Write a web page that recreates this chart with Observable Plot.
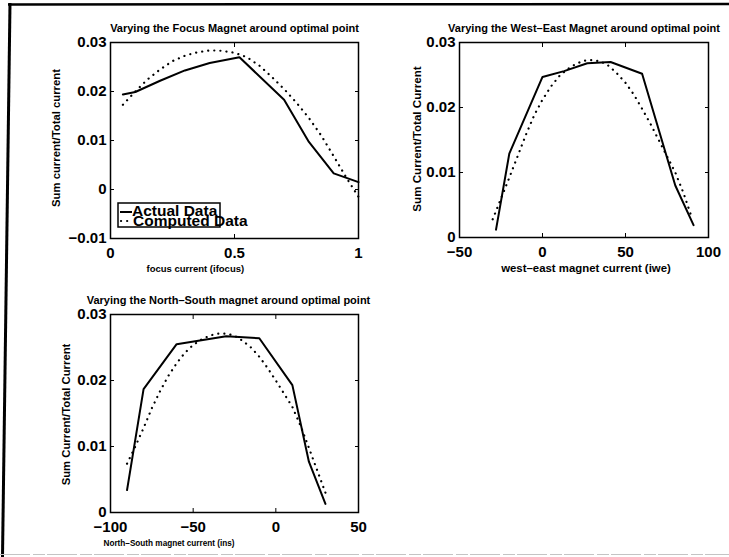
<!DOCTYPE html>
<html>
<head>
<meta charset="utf-8">
<script src="https://cdn.jsdelivr.net/npm/d3@7"></script>
<script src="https://cdn.jsdelivr.net/npm/@observablehq/plot@0.6"></script>
<style>
  html, body { margin: 0; padding: 0; background: #fff; }
  #wrap { position: relative; width: 729px; height: 557px; background: #fff; overflow: hidden; }
  #wrap svg { position: absolute; }
</style>
</head>
<body>
<div id="wrap"></div>
<script>
// ---------- Data ----------
// Panel 1: focus magnet
const focusX = [0.05, 0.1, 0.2, 0.3, 0.4, 0.52, 0.7, 0.8, 0.9, 1.0];
const focusActual = [0.0194, 0.0199, 0.0222, 0.0243, 0.0258, 0.0270, 0.0183, 0.0097, 0.0033, 0.0015];
const focusCompX = [0.05, 0.1, 0.15, 0.2, 0.25, 0.3, 0.35, 0.4, 0.45, 0.5, 0.55, 0.6, 0.65, 0.7, 0.75, 0.8, 0.85, 0.9, 0.95, 1.0];
const focusComputed = [0.0173, 0.0200, 0.0225, 0.0245, 0.0262, 0.0273, 0.0280, 0.0284, 0.0283, 0.0279, 0.0270, 0.0253, 0.0230, 0.0205, 0.0177, 0.0146, 0.0110, 0.0068, 0.0025, -0.0015];

// Panel 2: west-east magnet
const weX = [-28, -20, 0, 13, 27, 41, 60, 80, 91];
const weActual = [0.0012, 0.0129, 0.0247, 0.0256, 0.0268, 0.0270, 0.0252, 0.0080, 0.0019];
const weCompX = [-30, -25, -20, -15, -10, -5, 0, 5, 10, 15, 20, 25, 30, 35, 40, 45, 50, 55, 60, 65, 70, 75, 80, 85, 90];
const weComputed = [0.0028, 0.0060, 0.0092, 0.0125, 0.0158, 0.0188, 0.0212, 0.0232, 0.0248, 0.0259, 0.0267, 0.0272, 0.0273, 0.0271, 0.0264, 0.0252, 0.0238, 0.0220, 0.0198, 0.0175, 0.0150, 0.0125, 0.0100, 0.0068, 0.0030];

// Panel 3: north-south magnet
const nsX = [-90, -80, -60, -30, -10, 10, 20, 30];
const nsActual = [0.0034, 0.0187, 0.0255, 0.0267, 0.0264, 0.0193, 0.0077, 0.0013];
const nsCompX = [-90, -85, -80, -75, -70, -65, -60, -55, -50, -45, -40, -35, -30, -25, -20, -15, -10, -5, 0, 5, 10, 15, 20, 25, 30];
const nsComputed = [0.0074, 0.0100, 0.0128, 0.0158, 0.0184, 0.0207, 0.0226, 0.0242, 0.0254, 0.0262, 0.0268, 0.0271, 0.0271, 0.0268, 0.0260, 0.0250, 0.0236, 0.0219, 0.0200, 0.0180, 0.0160, 0.0131, 0.0098, 0.0064, 0.0030];

// Tick values
const focusXTicks = [0, 0.5, 1];
const focusYTicks = [-0.01, 0, 0.01, 0.02, 0.03];
const weXTicks = [-50, 0, 50, 100];
const nsXTicks = [-100, -50, 0, 50];
const fracYTicks = [0, 0.01, 0.02, 0.03];

// Texts
const titles = [
  "Varying the Focus Magnet around optimal point",
  "Varying the West\u2013East Magnet around optimal point",
  "Varying the North\u2013South magnet around optimal point"
];
const xLabels = ["focus current (ifocus)", "west\u2013east magnet current (iwe)", "North\u2013South magnet current (ins)"];
const yLabels = ["Sum current/Total current", "Sum Current/Total Current", "Sum Current/Total Current"];
const legendLabels = ["Actual Data", "Computed Data"];

// ---------- Drawing ----------
const FONT = "'Liberation Sans', Arial, Helvetica, sans-serif";
const fmt = d => (d < 0 ? "\u2212" : "") + Math.abs(d);
const blank = () => "";
const toRows = (xs, ys) => xs.map((x, i) => ({x, y: ys[i]}));

function panel(cfg) {
  const svg = Plot.plot({
    width: cfg.width, height: cfg.height,
    marginLeft: cfg.ml, marginRight: cfg.mr, marginTop: cfg.mt, marginBottom: cfg.mb,
    style: {fontFamily: FONT, fontWeight: "bold", background: "transparent", overflow: "visible", color: "black"},
    x: {domain: cfg.xDomain, nice: false, label: null, inset: 0},
    y: {domain: cfg.yDomain, nice: false, label: null, inset: 0},
    marks: [
      // tick labels
      Plot.axisX({anchor: "bottom", ticks: cfg.xTicks, tickSize: 0, tickPadding: 9, tickFormat: fmt, fontSize: 15, label: null}),
      Plot.axisY({anchor: "left", ticks: cfg.yTicks, tickSize: 0, tickPadding: 4, tickFormat: fmt, fontSize: 15, label: null}),
      // inward ticks on all four sides
      Plot.axisX({anchor: "bottom", ticks: cfg.xTicks, tickSize: 4, dy: -4, tickFormat: blank, label: null}),
      Plot.axisX({anchor: "top", ticks: cfg.xTicks, tickSize: 4, dy: 4, tickFormat: blank, label: null}),
      Plot.axisY({anchor: "left", ticks: cfg.yTicks, tickSize: 4, dx: 4, tickFormat: blank, label: null}),
      Plot.axisY({anchor: "right", ticks: cfg.yTicks, tickSize: 4, dx: -4, tickFormat: blank, label: null}),
      // data
      Plot.line(cfg.computed, {x: "x", y: "y", stroke: "black", strokeWidth: 2.2, strokeDasharray: "0.1,6", strokeLinecap: "round"}),
      Plot.line(cfg.actual, {x: "x", y: "y", stroke: "black", strokeWidth: 2}),
      Plot.frame({stroke: "black", strokeWidth: 1.5}),
      // title
      Plot.text([cfg.title], {text: d => d, frameAnchor: "top", lineAnchor: "bottom", dy: -11, dx: cfg.titleDx, fontSize: 11, fontWeight: "bold"}),
      // x label
      Plot.text([cfg.xlabel], {text: d => d, frameAnchor: cfg.xlabelAnchor, textAnchor: cfg.xlabelTA, lineAnchor: "bottom", dx: cfg.xlabelDx, dy: cfg.xlabelDy, fontSize: cfg.xlabelSize, fontWeight: "bold"}),
      // y label
      Plot.text([cfg.ylabel], {text: d => d, frameAnchor: "left", rotate: -90, textAnchor: "middle", lineAnchor: "middle", dx: cfg.ylabelDx, dy: cfg.ylabelDy, fontSize: cfg.ylabelSize, fontWeight: "bold"})
    ]
  });
  svg.style.left = cfg.left + "px";
  svg.style.top = cfg.top + "px";
  return svg;
}

const wrap = document.getElementById("wrap");

wrap.appendChild(panel({
  left: 0, top: 0, width: 365, height: 280, ml: 110, mr: 7, mt: 42, mb: 42,
  xDomain: [0, 1], yDomain: [-0.01, 0.03], xTicks: focusXTicks, yTicks: focusYTicks,
  actual: toRows(focusX, focusActual), computed: toRows(focusCompX, focusComputed),
  title: titles[0], titleDx: 0,
  xlabel: xLabels[0], xlabelAnchor: "bottom-left", xlabelTA: "start", xlabelDx: 36, xlabelDy: 33, xlabelSize: 9.5,
  ylabel: yLabels[0], ylabelDx: -54, ylabelDy: -2.5, ylabelSize: 11.3
}));

wrap.appendChild(panel({
  left: 365, top: 0, width: 364, height: 280, ml: 94, mr: 21, mt: 42, mb: 43,
  xDomain: [-50, 100], yDomain: [0, 0.03], xTicks: weXTicks, yTicks: fracYTicks,
  actual: toRows(weX, weActual), computed: toRows(weCompX, weComputed),
  title: titles[1], titleDx: 0,
  xlabel: xLabels[1], xlabelAnchor: "bottom", xlabelTA: "middle", xlabelDx: 2, xlabelDy: 34, xlabelSize: 11.4,
  ylabel: yLabels[1], ylabelDx: -42, ylabelDy: -1, ylabelSize: 11.6
}));

wrap.appendChild(panel({
  left: 0, top: 280, width: 365, height: 277, ml: 110, mr: 7, mt: 34, mb: 45,
  xDomain: [-100, 50], yDomain: [0, 0.03], xTicks: nsXTicks, yTicks: fracYTicks,
  actual: toRows(nsX, nsActual), computed: toRows(nsCompX, nsComputed),
  title: titles[2], titleDx: -6,
  xlabel: xLabels[2], xlabelAnchor: "bottom-left", xlabelTA: "start", xlabelDx: -7, xlabelDy: 33, xlabelSize: 8.2,
  ylabel: yLabels[2], ylabelDx: -44, ylabelDy: 1, ylabelSize: 11.3
}));

// ---------- Overlay: page frame + legend ----------
const ns = "http://www.w3.org/2000/svg";
const ov = d3.create("svg")
  .attr("xmlns", ns)
  .attr("width", 729).attr("height", 557)
  .style("left", "0px").style("top", "0px")
  .style("font-family", FONT).style("font-weight", "bold");

// scanned page border
ov.append("line").attr("x1", 8).attr("y1", 4.5).attr("x2", 729).attr("y2", 4).attr("stroke", "black").attr("stroke-width", 2.5);
ov.append("line").attr("x1", 10).attr("y1", 3).attr("x2", 2.5).attr("y2", 557).attr("stroke", "black").attr("stroke-width", 3);
ov.append("line").attr("x1", 0).attr("y1", 554.5).attr("x2", 729).attr("y2", 554.5).attr("stroke", "#c4c4c4").attr("stroke-width", 1.2).attr("stroke-dasharray", "30,3,12,2");

// legend
const lg = ov.append("g");
lg.append("rect").attr("x", 118).attr("y", 203).attr("width", 102).attr("height", 24)
  .attr("fill", "white").attr("stroke", "black").attr("stroke-width", 1.5);
lg.append("line").attr("x1", 120).attr("x2", 132).attr("y1", 212).attr("y2", 212)
  .attr("stroke", "black").attr("stroke-width", 2);
lg.append("line").attr("x1", 121).attr("x2", 131).attr("y1", 221).attr("y2", 221)
  .attr("stroke", "black").attr("stroke-width", 2.2).attr("stroke-dasharray", "0.1,6").attr("stroke-linecap", "round");
lg.append("text").attr("x", 132).attr("y", 216).attr("font-size", 15.5).text(legendLabels[0]);
lg.append("text").attr("x", 133).attr("y", 226).attr("font-size", 15.5).text(legendLabels[1]);

wrap.appendChild(ov.node());
</script>
</body>
</html>
